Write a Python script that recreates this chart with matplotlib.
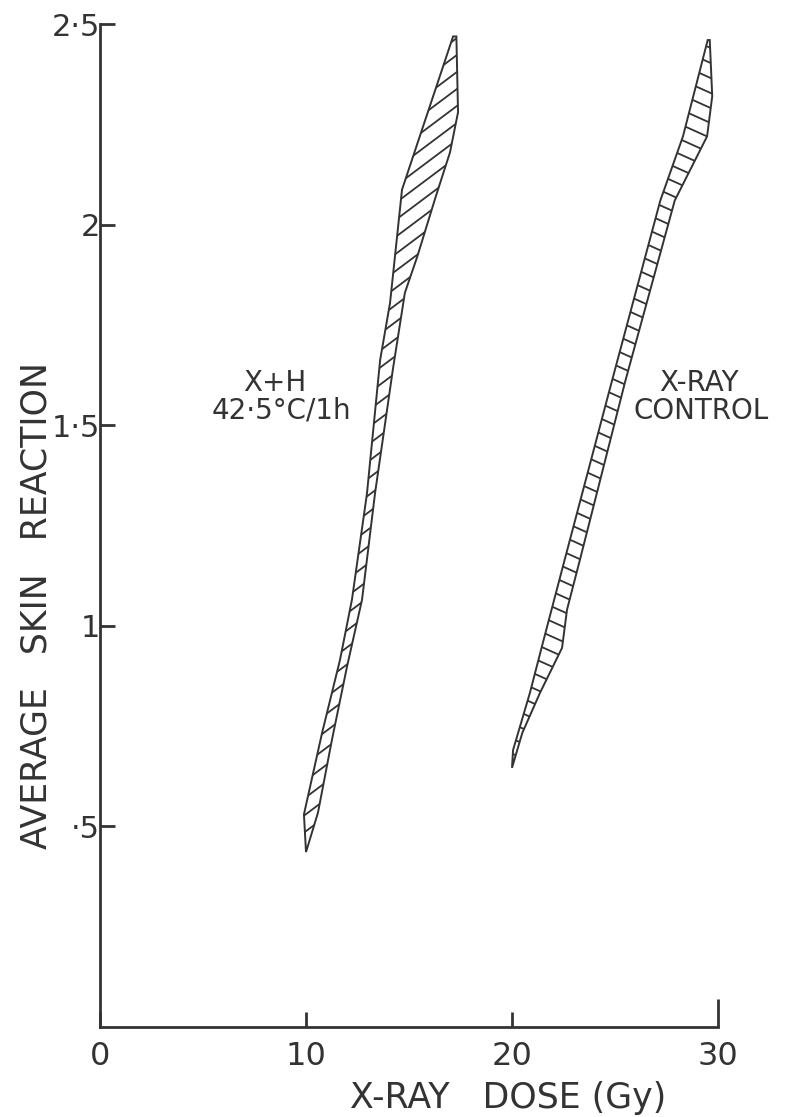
import numpy as np
import matplotlib
matplotlib.use('Agg')
import matplotlib.pyplot as plt
from matplotlib.patches import Polygon

# X + H (42.5 C / 1h) band: left edge bottom->top, right edge top->bottom
xh_left_x = [10.0, 9.9, 10.78, 11.65, 12.23, 12.96, 13.6, 14.08, 14.42, 14.66, 17.14]
xh_left_y = [0.436, 0.53, 0.733, 0.915, 1.065, 1.33, 1.663, 1.805, 1.97, 2.087, 2.469]
xh_right_x = [17.3, 17.38, 16.99, 16.3, 15.4, 14.8, 14.22, 13.35, 12.72, 11.99, 11.26, 10.58, 10.0]
xh_right_y = [2.469, 2.28, 2.18, 2.07, 1.92, 1.83, 1.64, 1.33, 1.065, 0.898, 0.716, 0.534, 0.436]

# X-ray control band
xr_left_x = [20.0, 20.05, 20.87, 21.5, 22.43, 24.85, 27.2, 28.3, 29.5]
xr_left_y = [0.646, 0.69, 0.833, 0.958, 1.14, 1.61, 2.06, 2.22, 2.46]
xr_right_x = [29.6, 29.72, 29.47, 27.9, 25.5, 23.3, 22.67, 22.43, 21.36, 20.5, 20.0]
xr_right_y = [2.46, 2.32, 2.22, 2.06, 1.61, 1.165, 1.04, 0.945, 0.833, 0.733, 0.646]

xticks = [0, 10, 20, 30]
yticks = [0.5, 1, 1.5, 2, 2.5]
ytick_labels = ['\u00b75', '1', '1\u00b75', '2', '2\u00b75']

ink = '#333333'

fig = plt.figure(figsize=(7.96, 11.17), dpi=100)
ax = fig.add_axes([100/796, 1 - 1027/1117, 618/796, 1003/1117])
ax.set_xlim(0, 30)
ax.set_ylim(0, 2.5)

# pixels per data unit, so hatch angles can be given in screen space
px_x = 618 / 30
px_y = 1003 / 2.5


def hatched_band(xs, ys, slope_px, step_px):
    poly = Polygon(np.column_stack([xs, ys]), closed=True, facecolor='white',
                   edgecolor=ink, linewidth=1.4, zorder=3)
    ax.add_patch(poly)
    m = slope_px * px_x / px_y
    xc = np.mean(xs)
    step = step_px / px_y
    for y0 in np.arange(min(ys) - 1, max(ys) + 1, step):
        xx = np.array([min(xs) - 1, max(xs) + 1])
        ln, = ax.plot(xx, y0 + m * (xx - xc), color=ink, lw=1.3, zorder=4)
        ln.set_clip_path(poly)


hatched_band(xh_left_x + xh_right_x, xh_left_y + xh_right_y, 0.75, 17)
hatched_band(xr_left_x + xr_right_x, xr_left_y + xr_right_y, -0.45, 15)

for s in ['top', 'right']:
    ax.spines[s].set_visible(False)
for s in ['left', 'bottom']:
    ax.spines[s].set_color(ink)
    ax.spines[s].set_linewidth(2.0)

ax.set_xticks(xticks)
ax.set_xticklabels([str(t) for t in xticks])
ax.set_yticks(yticks)
ax.set_yticklabels(ytick_labels)
ax.tick_params(axis='both', direction='in', length=11, width=2.0, color=ink,
               labelcolor=ink, labelsize=23)
ax.tick_params(axis='y', pad=0, labelsize=22)
ax.tick_params(axis='x', pad=10)
ax.xaxis.get_major_ticks()[-1].tick1line.set_markersize(20)

ax.set_ylabel('AVERAGE   SKIN   REACTION', fontsize=25, color=ink)
ax.yaxis.set_label_coords(-0.075, 0.42)
ax.set_xlabel('X-RAY   DOSE (Gy)', fontsize=25, color=ink)
ax.xaxis.set_label_coords(0.66, -0.054)

ax.text(8.5, 1.606, 'X+H', ha='center', va='center', fontsize=20, color=ink)
ax.text(8.8, 1.536, '42\u00b75\u00b0C/1h', ha='center', va='center', fontsize=20, color=ink)
ax.text(29.1, 1.606, 'X-RAY', ha='center', va='center', fontsize=20, color=ink)
ax.text(29.2, 1.536, 'CONTROL', ha='center', va='center', fontsize=20, color=ink)

fig.savefig('out.png', dpi=100)
